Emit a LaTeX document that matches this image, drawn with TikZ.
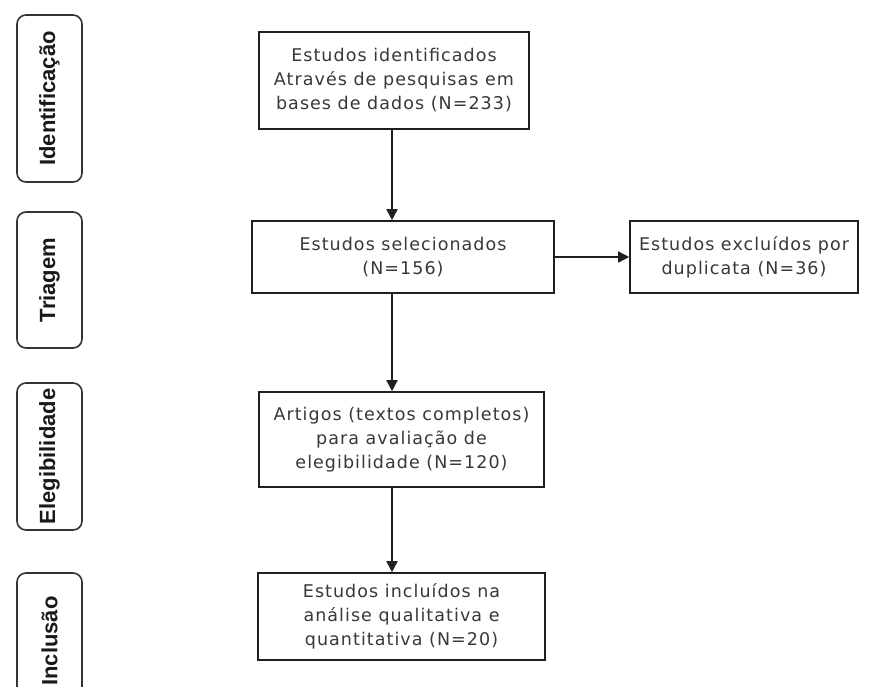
\documentclass[tikz,border=0pt]{standalone}
\usepackage{fontspec}
\setmainfont{DejaVu Sans}[LetterSpace=6]
\newfontfamily\sidefont{Liberation Sans}
\usetikzlibrary{arrows.meta,calc}
\begin{document}
\begin{tikzpicture}[x=1pt,y=-1pt,
  box/.style={draw=black!88,line width=1.6pt,align=center,inner sep=0pt,
    font=\fontsize{17.5}{24}\selectfont,text=black!78},
  side/.style={draw=black!80,line width=1.6pt,rounded corners=9pt,rotate=90,
    minimum height=65pt,inner sep=0pt,
    font=\sidefont\bfseries\fontsize{22}{26}\selectfont,text=black!90},
  arr/.style={line width=1.5pt,draw=black!88,-{Triangle[length=11pt,width=11pt]}}]
\useasboundingbox (0,0) rectangle (893,686);
\clip (0,0) rectangle (893,686);
\fill[white] (0,0) rectangle (893,686);

% side labels
\node[side,minimum width=167pt] (sid) at (49.5,98.5) {Identificação};
\node[side,minimum width=136pt] (str) at (49.5,280) {Triagem};
\node[side,minimum width=147pt] (sel) at (49.5,456.5) {Elegibilidade};
\node[side,minimum width=136pt] (sin) at (49.5,641) {Inclusão};

% main boxes
\node[box,minimum width=270pt,minimum height=97pt] (b1) at (394,80.5)
  {Estudos identificados\\Através de pesquisas em\\bases de dados (N=233)};
\node[box,minimum width=302pt,minimum height=72pt] (b2) at (403,257)
  {Estudos selecionados\\(N=156)};
\node[box,minimum width=228pt,minimum height=72pt] (b3) at (744,257)
  {Estudos excluídos por\\duplicata (N=36)};
\node[box,minimum width=285pt,minimum height=95pt] (b4) at (401.5,439.5)
  {Artigos (textos completos)\\para avaliação de\\elegibilidade (N=120)};
\node[box,minimum width=287pt,minimum height=87pt] (b5) at (401.5,616.5)
  {Estudos incluídos na\\análise qualitativa e\\quantitativa (N=20)};

% arrows
\coordinate (ax) at (392,0);
\draw[arr] (b1.south -| ax) -- (b2.north -| ax);
\draw[arr] (b2.south -| ax) -- (b4.north -| ax);
\draw[arr] (b4.south -| ax) -- (b5.north -| ax);
\draw[arr] (b2.east) -- (b3.west);
\end{tikzpicture}
\end{document}
